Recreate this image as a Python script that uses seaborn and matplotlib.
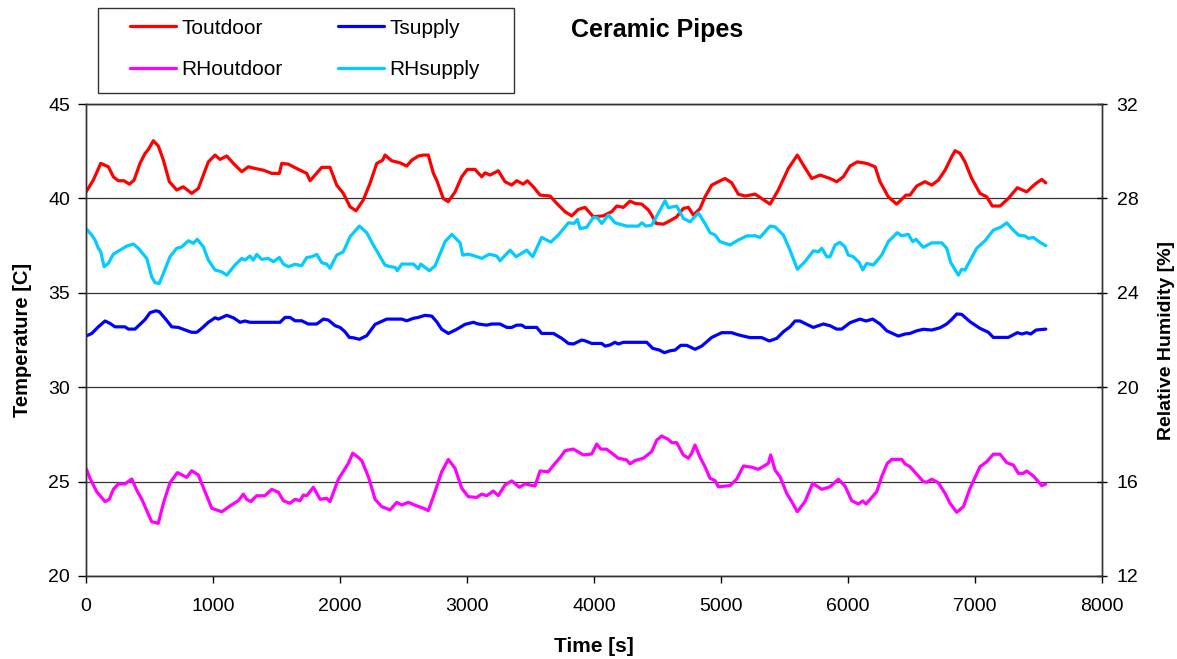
import numpy as np
import matplotlib
import matplotlib.pyplot as plt
from matplotlib.patches import Rectangle
import seaborn as sns

sns.set_theme(style='ticks')
plt.rcParams['font.family'] = ['Liberation Sans', 'DejaVu Sans']
plt.rcParams.update({'text.color': 'black', 'axes.labelcolor': 'black',
                     'xtick.color': 'black', 'ytick.color': 'black'})

# ── Data ─────────────────────────────────────────────────────────────────
t_toutdoor = [0, 57, 116, 176, 215, 254, 299, 341, 378, 425, 465, 491, 530, 569, 609, 656,
              714, 766, 832, 884, 963, 1016, 1055, 1108, 1160, 1226, 1278, 1331, 1396, 1462,
              1522, 1541, 1593, 1632, 1685, 1738, 1764, 1803, 1856, 1921, 1974, 2026, 2079,
              2126, 2183, 2236, 2289, 2336, 2354, 2407, 2472, 2525, 2565, 2617, 2656, 2695,
              2735, 2761, 2813, 2852, 2906, 2958, 3002, 3063, 3116, 3142, 3181, 3246, 3299,
              3352, 3391, 3443, 3475, 3522, 3575, 3654, 3706, 3772, 3824, 3876, 3929, 3995,
              4073, 4139, 4179, 4231, 4283, 4323, 4376, 4428, 4454, 4488, 4546, 4598, 4651,
              4703, 4743, 4782, 4835, 4874, 4927, 4979, 5031, 5084, 5136, 5189, 5268, 5320,
              5386, 5451, 5530, 5601, 5648, 5714, 5780, 5858, 5911, 5963, 6016, 6073, 6147,
              6213, 6252, 6317, 6383, 6457, 6488, 6541, 6606, 6659, 6711, 6764, 6816, 6843,
              6882, 6921, 6974, 7039, 7092, 7136, 7197, 7262, 7333, 7407, 7472, 7525, 7557]
toutdoor = [40.35, 40.97, 41.86, 41.68, 41.15, 40.94, 40.94, 40.76, 40.97, 41.86, 42.39, 42.60,
            43.06, 42.78, 42.03, 40.89, 40.45, 40.62, 40.27, 40.53, 41.94, 42.30, 42.07, 42.25,
            41.86, 41.42, 41.68, 41.59, 41.50, 41.33, 41.33, 41.86, 41.82, 41.68, 41.50, 41.33,
            40.94, 41.24, 41.65, 41.65, 40.71, 40.27, 39.56, 39.35, 39.92, 40.80, 41.86, 42.03,
            42.30, 42.00, 41.89, 41.72, 42.03, 42.25, 42.30, 42.30, 41.33, 40.97, 40.00, 39.83,
            40.35, 41.15, 41.54, 41.54, 41.15, 41.36, 41.24, 41.47, 40.89, 40.71, 40.94, 40.76,
            40.94, 40.62, 40.18, 40.13, 39.74, 39.30, 39.08, 39.42, 39.53, 39.03, 39.08, 39.30,
            39.60, 39.53, 39.86, 39.74, 39.70, 39.39, 39.12, 38.68, 38.64, 38.82, 39.03, 39.47,
            39.53, 39.12, 39.47, 40.09, 40.71, 40.89, 41.06, 40.83, 40.23, 40.13, 40.23, 40.00,
            39.70, 40.45, 41.59, 42.30, 41.77, 41.06, 41.24, 41.06, 40.89, 41.15, 41.72, 41.94,
            41.86, 41.68, 40.89, 40.09, 39.70, 40.18, 40.18, 40.66, 40.89, 40.71, 40.97, 41.50,
            42.21, 42.53, 42.39, 41.94, 41.06, 40.27, 40.09, 39.60, 39.60, 40.00, 40.57, 40.35,
            40.76, 41.01, 40.83]

t_tsupply = [0, 45, 97, 150, 189, 228, 307, 333, 386, 465, 504, 551, 577, 622, 675, 727, 766,
             832, 872, 911, 963, 1016, 1042, 1108, 1160, 1213, 1252, 1291, 1528, 1567, 1606,
             1646, 1698, 1750, 1817, 1869, 1908, 1961, 2000, 2039, 2073, 2105, 2152, 2210, 2276,
             2368, 2486, 2525, 2577, 2617, 2669, 2722, 2761, 2801, 2853, 2919, 2984, 3050, 3089,
             3155, 3194, 3260, 3313, 3352, 3391, 3431, 3457, 3549, 3588, 3680, 3746, 3798, 3837,
             3903, 3929, 3982, 4061, 4087, 4126, 4165, 4191, 4231, 4415, 4462, 4514, 4554, 4598,
             4638, 4683, 4730, 4795, 4848, 4927, 5005, 5084, 5124, 5163, 5228, 5320, 5380, 5439,
             5491, 5543, 5583, 5622, 5675, 5727, 5806, 5858, 5911, 5950, 6016, 6094, 6142, 6194,
             6252, 6305, 6396, 6449, 6488, 6541, 6593, 6659, 6724, 6777, 6816, 6856, 6895, 6961,
             7039, 7105, 7144, 7262, 7333, 7368, 7407, 7439, 7480, 7557]
tsupply = [32.71, 32.85, 33.20, 33.51, 33.38, 33.20, 33.20, 33.08, 33.08, 33.59, 33.95, 34.05,
           34.00, 33.65, 33.20, 33.17, 33.07, 32.91, 32.91, 33.12, 33.44, 33.68, 33.61, 33.81,
           33.68, 33.44, 33.51, 33.44, 33.44, 33.70, 33.70, 33.52, 33.52, 33.35, 33.35, 33.61,
           33.56, 33.26, 33.17, 32.94, 32.64, 32.62, 32.54, 32.73, 33.33, 33.61, 33.61, 33.52,
           33.65, 33.70, 33.81, 33.77, 33.47, 33.07, 32.85, 33.07, 33.33, 33.44, 33.35, 33.29,
           33.35, 33.35, 33.17, 33.17, 33.29, 33.29, 33.17, 33.17, 32.85, 32.85, 32.59, 32.32,
           32.29, 32.50, 32.46, 32.32, 32.32, 32.18, 32.24, 32.38, 32.29, 32.38, 32.38, 32.06,
           31.97, 31.83, 31.93, 31.97, 32.22, 32.22, 32.01, 32.18, 32.64, 32.89, 32.89, 32.80,
           32.73, 32.63, 32.63, 32.45, 32.59, 32.94, 33.20, 33.51, 33.51, 33.33, 33.17, 33.35,
           33.26, 33.08, 33.08, 33.42, 33.61, 33.51, 33.61, 33.35, 32.99, 32.71, 32.82, 32.85,
           32.99, 33.07, 33.03, 33.15, 33.35, 33.59, 33.88, 33.86, 33.47, 33.12, 32.91, 32.64,
           32.64, 32.89, 32.82, 32.89, 32.82, 33.03, 33.08]

t_rhoutdoor = [0, 31, 84, 150, 183, 215, 254, 307, 360, 399, 439, 478, 517, 569, 609, 661, 719,
               793, 832, 884, 937, 990, 1069, 1134, 1199, 1239, 1265, 1297, 1344, 1409, 1462,
               1514, 1554, 1606, 1646, 1685, 1711, 1738, 1790, 1843, 1895, 1921, 1987, 2065,
               2100, 2132, 2171, 2223, 2276, 2328, 2394, 2446, 2486, 2538, 2604, 2656, 2695,
               2735, 2801, 2853, 2906, 2958, 3010, 3076, 3116, 3155, 3207, 3246, 3299, 3352,
               3412, 3457, 3535, 3575, 3640, 3693, 3732, 3772, 3837, 3916, 3982, 4021, 4053,
               4100, 4191, 4257, 4283, 4323, 4388, 4454, 4494, 4533, 4585, 4612, 4651, 4703,
               4743, 4769, 4795, 4835, 4874, 4913, 4953, 4979, 5071, 5124, 5176, 5242, 5294,
               5372, 5391, 5425, 5465, 5517, 5557, 5601, 5661, 5722, 5793, 5858, 5924, 5976,
               6029, 6081, 6116, 6142, 6226, 6265, 6309, 6344, 6423, 6449, 6488, 6541, 6593,
               6619, 6659, 6711, 6764, 6803, 6856, 6909, 6961, 7039, 7092, 7144, 7197, 7250,
               7302, 7341, 7380, 7407, 7459, 7525, 7557]
rhoutdoor = [16.56, 16.14, 15.57, 15.15, 15.25, 15.67, 15.90, 15.90, 16.11, 15.64, 15.25, 14.77,
             14.30, 14.23, 15.08, 15.95, 16.38, 16.18, 16.46, 16.28, 15.57, 14.87, 14.72, 14.97,
             15.19, 15.47, 15.25, 15.15, 15.40, 15.40, 15.67, 15.55, 15.19, 15.08, 15.25, 15.19,
             15.43, 15.40, 15.76, 15.25, 15.29, 15.15, 16.10, 16.77, 17.20, 17.08, 16.89, 16.21,
             15.25, 14.94, 14.80, 15.12, 15.01, 15.12, 14.97, 14.87, 14.77, 15.36, 16.42, 16.94,
             16.56, 15.72, 15.36, 15.33, 15.47, 15.40, 15.60, 15.40, 15.86, 16.03, 15.76, 15.90,
             15.81, 16.45, 16.42, 16.77, 17.01, 17.31, 17.38, 17.13, 17.17, 17.59, 17.38, 17.37,
             16.99, 16.92, 16.75, 16.89, 16.99, 17.27, 17.76, 17.93, 17.79, 17.65, 17.65, 17.13,
             16.99, 17.20, 17.55, 17.03, 16.63, 16.14, 16.04, 15.78, 15.83, 16.11, 16.66, 16.61,
             16.52, 16.77, 17.13, 16.49, 16.20, 15.50, 15.15, 14.72, 15.15, 15.93, 15.67, 15.78,
             16.10, 15.81, 15.19, 15.05, 15.18, 15.05, 15.57, 16.21, 16.77, 16.94, 16.94, 16.75,
             16.63, 16.31, 16.00, 15.97, 16.10, 15.95, 15.50, 15.08, 14.70, 14.94, 15.72, 16.63,
             16.84, 17.16, 17.16, 16.80, 16.70, 16.35, 16.35, 16.45, 16.24, 15.83, 15.90]

t_rhsupply = [0, 45, 71, 97, 116, 142, 176, 215, 268, 320, 372, 412, 478, 517, 543, 577, 614,
              661, 714, 754, 806, 845, 876, 924, 963, 1016, 1069, 1108, 1173, 1226, 1252, 1291,
              1317, 1344, 1383, 1435, 1475, 1522, 1554, 1593, 1646, 1698, 1738, 1777, 1817,
              1856, 1895, 1921, 1974, 2026, 2079, 2152, 2210, 2262, 2354, 2394, 2433, 2451,
              2486, 2577, 2617, 2635, 2703, 2748, 2827, 2880, 2945, 2966, 3010, 3063, 3116,
              3176, 3234, 3260, 3339, 3386, 3470, 3517, 3588, 3659, 3719, 3798, 3843, 3869,
              3890, 3942, 3995, 4026, 4061, 4113, 4165, 4257, 4349, 4376, 4409, 4454, 4520,
              4559, 4585, 4651, 4703, 4756, 4821, 4874, 4913, 4953, 4992, 5071, 5136, 5202,
              5268, 5307, 5386, 5425, 5491, 5543, 5601, 5661, 5727, 5767, 5793, 5833, 5858,
              5898, 5937, 5976, 6002, 6042, 6089, 6116, 6147, 6199, 6265, 6317, 6388, 6423,
              6475, 6509, 6535, 6593, 6659, 6738, 6777, 6809, 6869, 6895, 6921, 7013, 7079,
              7144, 7202, 7250, 7289, 7341, 7394, 7420, 7459, 7512, 7557]
rhsupply = [26.73, 26.45, 26.24, 25.89, 25.74, 25.11, 25.25, 25.64, 25.81, 25.98, 26.07, 25.89,
            25.46, 24.68, 24.43, 24.40, 24.89, 25.53, 25.89, 25.95, 26.21, 26.10, 26.27, 25.95,
            25.39, 24.97, 24.89, 24.75, 25.18, 25.46, 25.39, 25.56, 25.39, 25.63, 25.42, 25.46,
            25.32, 25.50, 25.22, 25.11, 25.21, 25.15, 25.50, 25.53, 25.63, 25.28, 25.22, 25.04,
            25.60, 25.74, 26.38, 26.83, 26.55, 26.03, 25.18, 25.11, 25.08, 24.94, 25.22, 25.22,
            25.02, 25.22, 24.94, 25.14, 26.17, 26.48, 26.12, 25.60, 25.64, 25.56, 25.46, 25.64,
            25.56, 25.36, 25.81, 25.53, 25.81, 25.53, 26.35, 26.15, 26.45, 26.97, 26.94, 27.11,
            26.72, 26.78, 27.20, 27.18, 26.94, 27.30, 26.97, 26.83, 26.83, 26.97, 26.83, 26.87,
            27.51, 27.90, 27.61, 27.68, 27.16, 27.01, 27.39, 26.94, 26.55, 26.45, 26.17, 26.03,
            26.24, 26.41, 26.42, 26.35, 26.83, 26.80, 26.45, 25.81, 25.00, 25.32, 25.78, 25.74,
            25.89, 25.53, 25.53, 26.03, 26.14, 25.95, 25.60, 25.53, 25.28, 24.97, 25.25, 25.18,
            25.60, 26.17, 26.55, 26.42, 26.48, 26.17, 26.27, 25.93, 26.12, 26.12, 25.89, 25.28,
            24.75, 25.00, 24.97, 25.89, 26.21, 26.66, 26.78, 26.97, 26.73, 26.45, 26.41, 26.31,
            26.35, 26.14, 26.00]

colors = {'Toutdoor': '#FF0000', 'Tsupply': '#0000FF',
          'RHoutdoor': '#FF00FF', 'RHsupply': '#00CCFF'}

# ── Figure ───────────────────────────────────────────────────────────────
fig = plt.figure(figsize=(11.77, 6.59), dpi=100)
ax = fig.add_axes([0.0731, 0.126, 0.8632, 0.716])
ax2 = ax.twinx()

lw = 2.3
sns.lineplot(x=t_toutdoor, y=toutdoor, ax=ax, color=colors['Toutdoor'], lw=lw,
             label='Toutdoor', sort=False, estimator=None)
sns.lineplot(x=t_tsupply, y=tsupply, ax=ax, color=colors['Tsupply'], lw=lw,
             label='Tsupply', sort=False, estimator=None)
sns.lineplot(x=t_rhoutdoor, y=rhoutdoor, ax=ax2, color=colors['RHoutdoor'], lw=lw,
             label='RHoutdoor', sort=False, estimator=None)
sns.lineplot(x=t_rhsupply, y=rhsupply, ax=ax2, color=colors['RHsupply'], lw=lw,
             label='RHsupply', sort=False, estimator=None)

ax.set_xlim(0, 8000)
ax.set_ylim(20, 45)
ax2.set_ylim(12, 32)
ax.set_xticks(np.arange(0, 8001, 1000))
ax.set_yticks(np.arange(20, 46, 5))
ax2.set_yticks(np.arange(12, 33, 4))
ax.yaxis.grid(True, color='#333333', lw=0.9)
ax.set_axisbelow(True)

ax.tick_params(axis='x', labelsize=14, direction='out', length=5, width=1, pad=11)
ax.tick_params(axis='y', labelsize=14, direction='out', length=5.5, width=1, pad=6)
ax2.tick_params(axis='y', labelsize=14, direction='inout', length=7, width=1, pad=7)
for a in (ax, ax2):
    for s in a.spines.values():
        s.set_color('#333333')
        s.set_linewidth(1.0)

ax.set_xlabel('Time [s]', fontsize=15, fontweight='bold', va='center')
ax.xaxis.set_label_coords(0.5, -0.15)
ax.set_ylabel('Temperature [C]', fontsize=14.5, fontweight='bold', va='center')
ax.yaxis.set_label_coords(-0.063, 0.5)
ax2.set_ylabel('Relative Humidity [%]', fontsize=14, fontweight='bold', va='center')
ax2.yaxis.set_label_coords(1.063, 0.5)

fig.text(0.558, 0.955, 'Ceramic Pipes', fontsize=18, fontweight='bold',
         ha='center', va='center')

# legend: Excel-style boxed, two columns
h1, l1 = ax.get_legend_handles_labels()
h2, l2 = ax2.get_legend_handles_labels()
ax.get_legend().remove()
ax2.get_legend().remove()
handles = [h1[0], h2[0], h1[1], h2[1]]
labels = [l1[0], l2[0], l1[1], l2[1]]
fig.patches.append(Rectangle((0.0833, 0.8589), 0.3534, 0.129, transform=fig.transFigure,
                             facecolor='white', edgecolor='#333333', lw=1.0, zorder=0))
fig.legend(handles, labels, ncol=2, loc='center',
           bbox_to_anchor=(130 / 1177, 1 - 84 / 659, 350 / 1177, 70 / 659), mode='expand',
           fontsize=15, frameon=False, handlelength=2.2, handletextpad=0.25,
           borderpad=0, labelspacing=1.1, borderaxespad=0)

fig.savefig('out.png', dpi=100)
